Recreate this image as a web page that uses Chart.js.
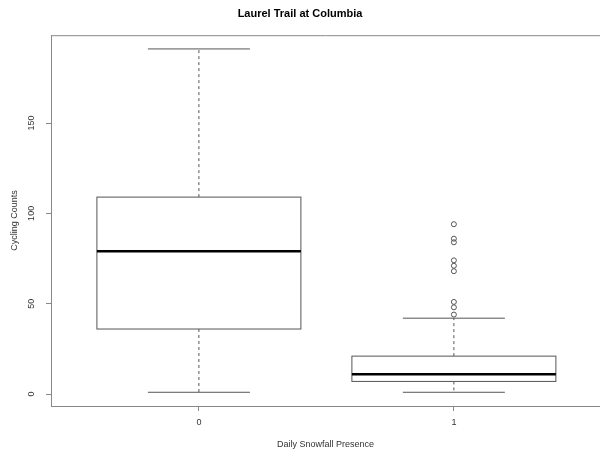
<!DOCTYPE html>
<html>
<head>
<meta charset="utf-8">
<script src="https://cdn.jsdelivr.net/npm/chart.js@4/dist/chart.umd.min.js"></script>
<style>
  body { margin: 0; background: #fff; }
  canvas { display: block; }
</style>
</head>
<body>
<canvas id="boxChart" width="600" height="457"></canvas>
<script>
// Laurel Trail at Columbia - cycling counts by snowfall presence (boxplot)

const categories = ['0', '1'];
const whiskerLow = [1, 1];
const q1 = [36, 7];
const medians = [79, 11];
const q3 = [109, 21];
const whiskerHigh = [191, 42];
const outliers1 = [94, 86, 84, 74, 71, 68, 51, 48, 44];
const yTicks = [0, 50, 100, 150];

const boxHalf = 0.4;
const capHalf = 0.2;

// boxes, whiskers and medians drawn from the scales
const boxPlugin = {
    id: 'boxes',
    beforeDatasetsDraw(chart) {
        const ctx = chart.ctx;
        const x = chart.scales.x;
        const y = chart.scales.y;
        ctx.save();
        for (let i = 0; i < categories.length; i++) {
            const pos = i + 1;
            const xl = x.getPixelForValue(pos - boxHalf);
            const xr = x.getPixelForValue(pos + boxHalf);
            const xc = x.getPixelForValue(pos);
            const cl = x.getPixelForValue(pos - capHalf);
            const cr = x.getPixelForValue(pos + capHalf);
            const yLo = y.getPixelForValue(whiskerLow[i]);
            const yQ1 = y.getPixelForValue(q1[i]);
            const yMed = y.getPixelForValue(medians[i]);
            const yQ3 = y.getPixelForValue(q3[i]);
            const yHi = y.getPixelForValue(whiskerHigh[i]);

            ctx.strokeStyle = '#555';
            ctx.lineWidth = 1;
            // dashed whiskers
            ctx.setLineDash([3, 3]);
            ctx.beginPath();
            ctx.moveTo(xc, yQ3); ctx.lineTo(xc, yHi);
            ctx.moveTo(xc, yQ1); ctx.lineTo(xc, yLo);
            ctx.stroke();
            ctx.setLineDash([]);
            // caps
            ctx.beginPath();
            ctx.moveTo(cl, yHi); ctx.lineTo(cr, yHi);
            ctx.moveTo(cl, yLo); ctx.lineTo(cr, yLo);
            ctx.stroke();
            // box
            ctx.fillStyle = '#fff';
            ctx.fillRect(xl, yQ3, xr - xl, yQ1 - yQ3);
            ctx.strokeRect(xl, yQ3, xr - xl, yQ1 - yQ3);
            // median
            ctx.strokeStyle = '#000';
            ctx.lineWidth = 2.5;
            ctx.beginPath();
            ctx.moveTo(xl, yMed); ctx.lineTo(xr, yMed);
            ctx.stroke();
        }
        ctx.restore();
    },
    afterDraw(chart) {
        const ctx = chart.ctx;
        const area = chart.chartArea;
        const y = chart.scales.y;
        ctx.save();
        // top frame line
        ctx.strokeStyle = '#888';
        ctx.lineWidth = 1;
        ctx.beginPath();
        ctx.moveTo(area.left, area.top + 0.5);
        ctx.lineTo(area.right, area.top + 0.5);
        ctx.stroke();
        // rotated y tick labels
        ctx.fillStyle = '#333';
        ctx.font = '9px "Liberation Sans", Arial, sans-serif';
        ctx.textAlign = 'center';
        ctx.textBaseline = 'middle';
        yTicks.forEach(v => {
            ctx.save();
            ctx.translate(32, y.getPixelForValue(v));
            ctx.rotate(-Math.PI / 2);
            ctx.fillText(String(v), 0, 0);
            ctx.restore();
        });
        ctx.restore();
    }
};

const ctx = document.getElementById('boxChart').getContext('2d');
new Chart(ctx, {
    type: 'scatter',
    data: {
        datasets: [{
            label: 'outliers',
            data: outliers1.map(v => ({ x: 2, y: v })),
            pointStyle: 'circle',
            pointRadius: 2.5,
            borderColor: '#555',
            borderWidth: 1,
            backgroundColor: 'rgba(0,0,0,0)'
        }]
    },
    options: {
        responsive: false,
        animation: false,
        devicePixelRatio: 1,
        layout: { padding: 0, autoPadding: false },
        plugins: {
            legend: { display: false },
            tooltip: { enabled: false },
            title: {
                display: true,
                text: 'Laurel Trail at Columbia',
                color: '#000',
                font: { family: '"Liberation Sans", Arial, sans-serif', size: 11, weight: 'bold' },
                padding: { top: 7, bottom: 15 }
            }
        },
        scales: {
            x: {
                type: 'linear',
                min: 0.42,
                max: 2.573,
                afterBuildTicks: s => { s.ticks = categories.map((c, i) => ({ value: i + 1 })); },
                afterFit: s => { s.height = 51; s.paddingLeft = 0; s.paddingRight = 0; },
                ticks: {
                    callback: v => categories[v - 1],
                    color: '#333',
                    font: { family: '"Liberation Sans", Arial, sans-serif', size: 9 },
                    padding: 6,
                    maxRotation: 0
                },
                grid: { drawOnChartArea: false, drawTicks: true, tickLength: 5, color: '#888' },
                border: { display: true, color: '#888' },
                title: {
                    display: true,
                    text: 'Daily Snowfall Presence',
                    color: '#333',
                    font: { family: '"Liberation Sans", Arial, sans-serif', size: 9 },
                    padding: { top: 0, bottom: 7 }
                }
            },
            y: {
                min: -6.6,
                max: 198.6,
                afterBuildTicks: s => { s.ticks = yTicks.map(v => ({ value: v })); },
                afterFit: s => { s.width = 51; },
                ticks: { display: false },
                grid: { drawOnChartArea: false, drawTicks: true, tickLength: 5, color: '#888' },
                border: { display: true, color: '#888' },
                title: {
                    display: true,
                    text: 'Cycling Counts',
                    color: '#333',
                    font: { family: '"Liberation Sans", Arial, sans-serif', size: 9 },
                    padding: { top: 9, bottom: 0 }
                }
            }
        }
    },
    plugins: [boxPlugin]
});
</script>
</body>
</html>
